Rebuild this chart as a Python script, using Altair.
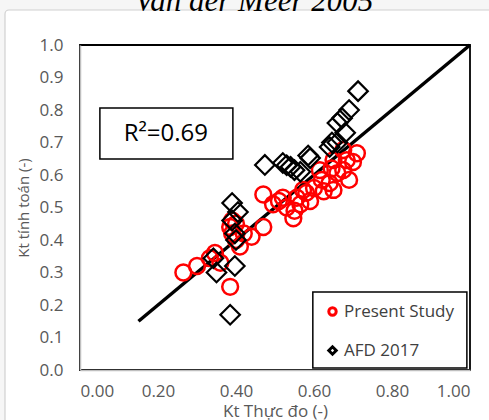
import altair as alt
import pandas as pd

# Present Study (red circles)
ps_x = [0.265, 0.30, 0.333, 0.346, 0.36, 0.385, 0.385, 0.39, 0.40, 0.41, 0.42, 0.44, 0.47, 0.47,
        0.495, 0.52, 0.53, 0.547, 0.556, 0.565, 0.572, 0.59, 0.60, 0.62, 0.64, 0.65, 0.66, 0.675,
        0.684, 0.69, 0.71, 0.675, 0.65, 0.615, 0.55, 0.58, 0.625, 0.645, 0.70, 0.39, 0.40, 0.51]
ps_y = [0.30, 0.32, 0.344, 0.36, 0.33, 0.256, 0.44, 0.46, 0.40, 0.38, 0.42, 0.41, 0.44, 0.54,
        0.51, 0.53, 0.50, 0.467, 0.53, 0.51, 0.554, 0.52, 0.56, 0.585, 0.575, 0.554, 0.606, 0.615,
        0.646, 0.585, 0.667, 0.677, 0.646, 0.615, 0.49, 0.545, 0.55, 0.62, 0.64, 0.42, 0.45, 0.52]

# AFD 2017 (black diamonds)
afd_x = [0.342, 0.35, 0.397, 0.385, 0.397, 0.39, 0.405, 0.39, 0.40, 0.474, 0.52, 0.53, 0.54,
         0.55, 0.565, 0.59, 0.585, 0.64, 0.646, 0.66, 0.66, 0.672, 0.69, 0.713, 0.68]
afd_y = [0.344, 0.30, 0.32, 0.17, 0.42, 0.514, 0.486, 0.46, 0.40, 0.631, 0.637, 0.63, 0.625,
         0.615, 0.61, 0.652, 0.66, 0.686, 0.70, 0.70, 0.76, 0.775, 0.80, 0.858, 0.73]

series_names = ["Present Study", "AFD 2017"]
line_x = [0.15, 1.0]
line_y = [0.15, 1.0]
r2_text = "R²=0.69"
x_ticks = [0.0, 0.2, 0.4, 0.6, 0.8, 1.0]
y_ticks = [0.0, 0.1, 0.2, 0.3, 0.4, 0.5, 0.6, 0.7, 0.8, 0.9, 1.0]

ps_df = pd.DataFrame({"x": ps_x, "y": ps_y, "series": series_names[0]})
afd_df = pd.DataFrame({"x": afd_x, "y": afd_y, "series": series_names[1]})
line_df = pd.DataFrame({"x": line_x, "y": line_y})
one = pd.DataFrame({"a": [0]})

FONT = "Open Sans"
xs = alt.Scale(domain=[0, 1], nice=False)
ys = alt.Scale(domain=[0, 1], nice=False)
x_axis = alt.Axis(values=x_ticks, tickCount=20, format=".2f", title="Kt Thực đo (-)",
                  titleFontSize=17, zindex=1, labelOverlap=False)
y_axis = alt.Axis(values=y_ticks, tickCount=20, format=".1f", title="Kt tính toán (-)",
                  labelOverlap=False, zindex=1)


def X(field="x"):
    return alt.X(f"{field}:Q", scale=xs, axis=x_axis)


def Y(field="y"):
    return alt.Y(f"{field}:Q", scale=ys, axis=y_axis)


frame = alt.Chart(one).mark_rect(fill="white", stroke="#d0d0d0", strokeWidth=1.2,
                                 cornerRadius=4).encode(
    x=alt.value(-75), x2=alt.value(430), y=alt.value(-35), y2=alt.value(400)
)

title = alt.Chart(one).mark_text(
    text="Van der Meer 2005", font="Liberation Serif", fontStyle="italic", fontSize=31,
    baseline="alphabetic", align="center", color="black"
).encode(x=alt.value(174), y=alt.value(-34))

plot_box_df = pd.DataFrame({"x": [0.0], "x2": [1.0], "y": [0.0], "y2": [1.0]})
plot_box = alt.Chart(plot_box_df).mark_rect(fill="white", fillOpacity=0, stroke="black",
                                            strokeWidth=1.8).encode(
    x=X(), x2="x2:Q", y=Y(), y2="y2:Q"
)

diag = alt.Chart(line_df).mark_line(color="black", strokeWidth=3.5).encode(x=X(), y=Y())

color_enc = alt.Color("series:N", scale=alt.Scale(domain=series_names, range=["#ff0000", "#000000"]),
                      legend=alt.Legend(orient="none", legendX=236, legendY=250, title=None,
                                        symbolSize=55, symbolStrokeWidth=3, labelFontSize=17,
                                        labelFont=FONT, labelColor="#404040", padding=8,
                                        rowPadding=18, labelOffset=3))
shape_enc = alt.Shape("series:N", scale=alt.Scale(domain=series_names, range=["circle", "diamond"]))

pts_ps = alt.Chart(ps_df).mark_point(filled=False, strokeWidth=2.5, opacity=1, size=250).encode(
    x=X(), y=Y(), color=color_enc, shape=shape_enc,
)
pts_afd = alt.Chart(afd_df).mark_point(filled=False, strokeWidth=2.2, opacity=1, size=380).encode(
    x=X(), y=Y(), color=color_enc, shape=shape_enc,
)

r2_df = pd.DataFrame({"x": [0.051], "x2": [0.392], "y": [0.806], "y2": [0.649]})
r2_box = alt.Chart(r2_df).mark_rect(fill="white", stroke="black", strokeWidth=1.5).encode(
    x=X(), x2="x2:Q", y=Y(), y2="y2:Q"
)
r2_lab = pd.DataFrame({"x": [0.22], "y": [0.727], "t": [r2_text]})
r2_txt = alt.Chart(r2_lab).mark_text(font=FONT, fontSize=24, color="black").encode(
    x=X(), y=Y(), text="t:N"
)

lg_df = pd.DataFrame({"x": [0.597], "x2": [0.992], "y": [0.006], "y2": [0.24]})
lg_box = alt.Chart(lg_df).mark_rect(fill="white", stroke="black", strokeWidth=1.5).encode(
    x=X(), x2="x2:Q", y=Y(), y2="y2:Q"
)

chart = alt.layer(frame, title, plot_box, diag, pts_ps, pts_afd, r2_box, r2_txt, lg_box).properties(
    width=390, height=325,
    autosize=alt.AutoSizeParams(type="none"),
    padding={"left": 80, "top": 45, "right": 19, "bottom": 50},
    background="#f6f6f6",
).configure_view(
    stroke=None
).configure_axis(
    grid=False, ticks=False, domainColor="#bfbfbf", domainWidth=1.5,
    labelFont=FONT, labelFontSize=17, labelColor="#595959",
    titleFont=FONT, titleFontSize=15, titleColor="#595959", titleFontWeight="normal",
).configure_axisX(
    labelPadding=13, titlePadding=4
).configure_axisY(
    labelPadding=17, titlePadding=8, labelOverlap=False
)

chart.save("out.html", embed_options={"renderer": "svg", "actions": False})
